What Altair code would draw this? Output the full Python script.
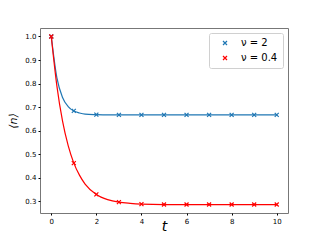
import altair as alt
import pandas as pd

series = ["ν = 2", "ν = 0.4"]
colors = ["#1f77b4", "#ff0000"]

# markers at integer t
t_pts = [0, 1, 2, 3, 4, 5, 6, 7, 8, 9, 10]
n_blue_pts = [1.0, 0.684, 0.668, 0.667, 0.667, 0.667, 0.667, 0.667, 0.667, 0.667, 0.667]
n_red_pts = [1.0, 0.462, 0.329, 0.296, 0.288, 0.286, 0.286, 0.286, 0.286, 0.286, 0.286]

# smooth curves
t_line = [0, 0.25, 0.5, 0.75, 1, 1.25, 1.5, 2, 2.5, 3, 3.5, 4, 5, 6, 7, 8, 9, 10]
n_blue_line = [1.0, 0.824, 0.741, 0.702, 0.683, 0.675, 0.670, 0.668, 0.667, 0.667, 0.667,
               0.667, 0.667, 0.667, 0.667, 0.667, 0.667, 0.667]
n_red_line = [1.0, 0.789, 0.640, 0.536, 0.462, 0.411, 0.373, 0.329, 0.307, 0.296, 0.291,
              0.288, 0.286, 0.286, 0.286, 0.286, 0.286, 0.286]

pts = pd.DataFrame({
    "t": t_pts * 2,
    "n": n_blue_pts + n_red_pts,
    "s": [series[0]] * len(t_pts) + [series[1]] * len(t_pts),
})
lines = pd.DataFrame({
    "t": t_line * 2,
    "n": n_blue_line + n_red_line,
    "s": [series[0]] * len(t_line) + [series[1]] * len(t_line),
    "c": [colors[0]] * len(t_line) + [colors[1]] * len(t_line),
})

xpath = "M-1,-1L1,1M-1,1L1,-1"

xs = alt.Scale(domain=[-0.5, 10.5], nice=False, zero=False)
ys = alt.Scale(domain=[0.25, 1.036], nice=False, zero=False)

xax = alt.Axis(values=[0, 2, 4, 6, 8, 10], grid=False, title="t", titleFont="DejaVu Sans",
               titleFontStyle="italic", titleFontWeight="normal", titleFontSize=14,
               titleBaseline="alphabetic", titleY=17,
               labelFontSize=7, labelFont="DejaVu Sans", labelColor="#000", tickSize=2,
               tickColor="#000", domain=False, labelPadding=2, labelOverlap=False)
yax = alt.Axis(values=[0.3, 0.4, 0.5, 0.6, 0.7, 0.8, 0.9, 1.0], format=".1f", grid=False,
               title="⟨n⟩", titleFont="DejaVu Sans", titleFontStyle="italic",
               titleFontWeight="normal", titleFontSize=11, titleBaseline="alphabetic",
               titleX=-24, labelFontSize=7,
               labelFont="DejaVu Sans", labelColor="#000", tickSize=2, tickColor="#000",
               domain=False, labelPadding=2, labelOverlap=False)

line = alt.Chart(lines).mark_line(strokeWidth=1.2, interpolate="monotone").encode(
    x=alt.X("t:Q", scale=xs, axis=xax),
    y=alt.Y("n:Q", scale=ys, axis=yax),
    color=alt.Color("c:N", scale=None),
    detail="s:N",
)

points = alt.Chart(pts).mark_point(shape=xpath, filled=False, size=16, strokeWidth=1.2, opacity=1).encode(
    x=alt.X("t:Q", scale=xs, axis=xax),
    y=alt.Y("n:Q", scale=ys, axis=yax),
    color=alt.Color("s:N", scale=alt.Scale(domain=series, range=colors),
                    legend=alt.Legend(title=None, orient="none", legendX=169, legendY=5,
                                      symbolType=xpath, symbolSize=16, symbolStrokeWidth=1.2,
                                      labelFontSize=10, labelFont="DejaVu Sans",
                                      labelColor="#000", padding=5, rowPadding=5,
                                      strokeColor="#d0d0d0", fillColor="white",
                                      cornerRadius=2, symbolOffset=6, labelOffset=11)),
)

chart = alt.layer(line, points).properties(
    width=248, height=185,
    autosize=alt.AutoSizeParams(type="none"),
    padding={"left": 32, "top": 20, "right": 24, "bottom": 19},
).configure_view(stroke="#777", strokeWidth=1).configure_axis(labelOverlap=False)

chart.save("out.html", embed_options={"renderer": "svg", "actions": False})
